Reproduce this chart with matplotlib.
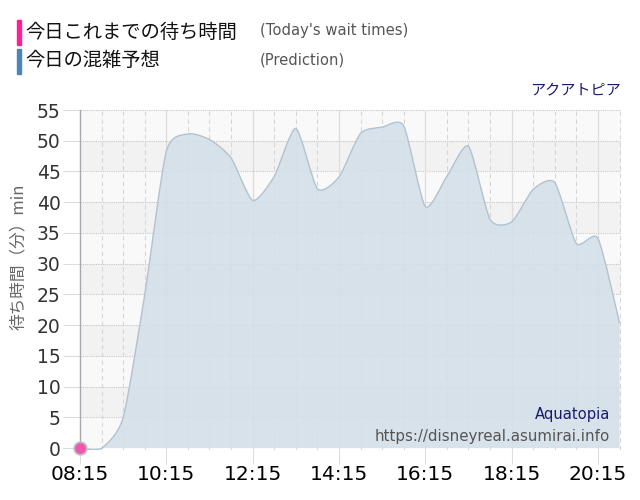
import matplotlib
matplotlib.use('Agg')
import matplotlib.pyplot as plt
from matplotlib.path import Path
from matplotlib.patches import PathPatch
from matplotlib.ticker import FuncFormatter, MultipleLocator, FixedLocator

# ---- data ----
times = ["08:15", "08:45", "09:15", "09:45", "10:15", "10:45", "11:15", "11:45",
         "12:15", "12:45", "13:15", "13:45", "14:15", "14:45", "15:15", "15:45",
         "16:15", "16:45", "17:15", "17:45", "18:15", "18:45", "19:15", "19:45",
         "20:15", "20:45"]
prediction = [0, 0, 5, 25, 48.3, 51.1, 50.2, 47.2, 40.3, 44.2, 52.0, 42.2, 44.1,
              51.2, 52.2, 52.4, 39.3, 44.2, 49.1, 37.2, 36.8, 42.1, 43.2, 33.3,
              34.1, 20.3]
actual_times = ["08:15"]
actual = [0]
tick_labels = ["08:15", "10:15", "12:15", "14:15", "16:15", "18:15", "20:15"]


def to_min(t):
    h, m = t.split(":")
    return int(h) * 60 + int(m)


xs = [to_min(t) for t in times]
ys = prediction
SMOOTH = 3.5


def spline(xs, ys):
    verts = [(xs[0], ys[0])]
    codes = [Path.MOVETO]
    prev_r = (xs[0], ys[0])
    n = len(xs)
    d = SMOOTH + 1
    for i in range(1, n):
        x, y = xs[i], ys[i]
        if i < n - 1:
            lx = (SMOOTH * x + xs[i - 1]) / d
            ly = (SMOOTH * y + ys[i - 1]) / d
            rx = (SMOOTH * x + xs[i + 1]) / d
            ry = (SMOOTH * y + ys[i + 1]) / d
            corr = ((ry - ly) * (rx - x)) / (rx - lx) + y - ry
            ly += corr
            ry += corr
        else:
            lx, ly, rx, ry = x, y, x, y
        verts += [prev_r, (lx, ly), (x, y)]
        codes += [Path.CURVE4] * 3
        prev_r = (rx, ry)
    return verts, codes


fig = plt.figure(figsize=(6.4, 5.0), dpi=100)
ax = fig.add_axes([80 / 640, 50 / 500, 541 / 640, 340 / 500])

xmin, xmax = to_min("08:15"), to_min("08:15") + 752
ax.set_xlim(xmin, xmax)
ax.set_ylim(-0.3, 55)

# background bands
for lo in range(0, 55, 5):
    ax.axhspan(lo, lo + 5, color='#f2f2f2' if (lo // 5) % 2 == 1 else '#f9f9f9',
               zorder=0, lw=0)

# grid
for v in range(5, 56, 5):
    ax.axhline(v, color='#c8c8c8', lw=0.8, ls=(0, (1, 1)), zorder=1)
for m in range(xmin + 30, xmax, 30):
    if (m - xmin) % 120 == 0:
        ax.axvline(m, color='#dcdcdc', lw=0.9, ls='-', zorder=1)
    else:
        ax.axvline(m, color='#d6d6d6', lw=0.8, ls=(0, (4, 3)), zorder=1)

verts, codes = spline(xs, ys)
fill_verts = verts + [(xs[-1], 0), (xs[0], 0), (xs[0], ys[0])]
fill_codes = codes + [Path.LINETO, Path.LINETO, Path.CLOSEPOLY]
ax.add_patch(PathPatch(Path(fill_verts, fill_codes), facecolor='#d3dfe9',
                       edgecolor='none', alpha=0.85, zorder=2))
ax.add_patch(PathPatch(Path(verts, codes), facecolor='none', edgecolor='#b3c2cf',
                       lw=1.0, zorder=3))

ax.plot([to_min(t) for t in actual_times], actual, 'o', ms=9, mfc='#f056b0',
        mec='#bdbdbd', mew=1.3, zorder=5, clip_on=False)

# axes styling
for s in ['top', 'right', 'bottom']:
    ax.spines[s].set_visible(False)
ax.spines['left'].set_color('#a8a8b0')
ax.spines['left'].set_linewidth(1)

ax.yaxis.set_major_locator(MultipleLocator(5))
ax.tick_params(axis='y', length=12, color='#dddddd', labelsize=13.5,
               labelcolor='#333333', pad=2)
ax.xaxis.set_major_locator(FixedLocator([to_min(t) for t in tick_labels]))
ax.xaxis.set_major_formatter(FuncFormatter(lambda v, p: "%02d:%02d" % (int(v) // 60, int(v) % 60)))
ax.tick_params(axis='x', length=10, color='#dddddd', labelsize=14.5,
               labelcolor='#000000', pad=1)

jp = ['Noto Sans CJK JP', 'DejaVu Sans']
ax.set_ylabel('待ち時間（分）min', family=jp, fontsize=12, color='#666666')
ax.yaxis.set_label_coords(-53 / 541, (450 - 257) / 340)

# legend texts
fig.patches.append(plt.Rectangle((17 / 640, 1 - 45 / 500), 4 / 640, 25 / 500,
                                 transform=fig.transFigure, color='#ff1e96'))
fig.patches.append(plt.Rectangle((17 / 640, 1 - 74 / 500), 4 / 640, 25 / 500,
                                 transform=fig.transFigure, color='#4a86b8'))
fig.text(25 / 640, 1 - 32 / 500, '今日これまでの待ち時間', family=jp, fontsize=13.9,
         va='center', color='#111111')
fig.text(25 / 640, 1 - 61 / 500, '今日の混雑予想', family=jp, fontsize=13.9,
         va='center', color='#111111')
fig.text(260 / 640, 1 - 31 / 500, "(Today's wait times)", family='DejaVu Sans',
         fontsize=10.6, va='center', color='#555555')
fig.text(260 / 640, 1 - 60 / 500, "(Prediction)", family='DejaVu Sans',
         fontsize=10.6, va='center', color='#555555')
fig.text(621 / 640, 1 - 90 / 500, 'アクアトピア', family=jp, fontsize=10.9,
         ha='right', va='center', color='#1a1a6e')
fig.text(610 / 640, 1 - 414 / 500, 'Aquatopia', family='DejaVu Sans', fontsize=10.6,
         ha='right', va='center', color='#1a1a6e')
fig.text(610 / 640, 1 - 436 / 500, 'https://disneyreal.asumirai.info',
         family='DejaVu Sans', fontsize=10.8, ha='right', va='center', color='#555555')

fig.savefig('out.png', dpi=100)
